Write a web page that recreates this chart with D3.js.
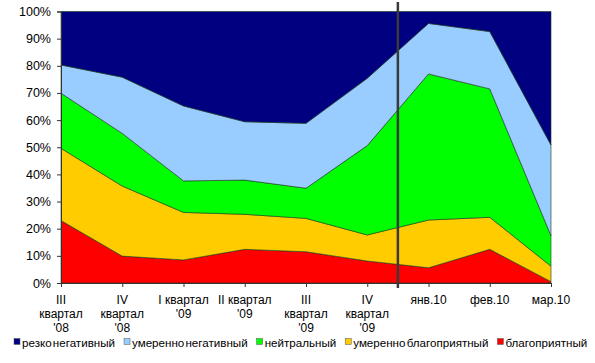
<!DOCTYPE html>
<html>
<head>
<meta charset="utf-8">
<script src="https://cdn.jsdelivr.net/npm/d3@7"></script>
<style>
  body { margin: 0; background: #fff; }
  svg { display: block; }
</style>
</head>
<body>
<svg id="chart"></svg>
<script>
const width = 595;
const height = 363;

// data
const categories = ["III квартал '08", "IV квартал '08", "I квартал '09", "II квартал '09",
    "III квартал '09", "IV квартал '09", "янв.10", "фев.10", "мар.10"];
const labelLines = [["III", "квартал", "'08"], ["IV", "квартал", "'08"], ["I квартал", "'09"],
    ["II квартал", "'09"], ["III", "квартал", "'09"], ["IV", "квартал", "'09"],
    ["янв.10"], ["фев.10"], ["мар.10"]];
const seriesNames = ["благоприятный", "умеренно благоприятный", "нейтральный",
    "умеренно негативный", "резко негативный"];
const blagopr = [23, 9.9, 8.5, 12.4, 11.5, 8.1, 5.6, 12.4, 0.5];
const umBlagopr = [26.6, 25.8, 17.5, 12.9, 12.3, 9.6, 17.6, 11.8, 5.7];
const neitral = [20.3, 19.4, 11.6, 12.6, 11.1, 32.9, 53.8, 47.3, 11.2];
const umNegativ = [10.4, 20.7, 27.6, 21.5, 23.9, 24.8, 18.6, 21.1, 33.4];
const rezkoNegativ = [19.7, 24.2, 34.8, 40.6, 41.2, 24.6, 4.4, 7.4, 49.2];
const yTicks = [0, 0.1, 0.2, 0.3, 0.4, 0.5, 0.6, 0.7, 0.8, 0.9, 1];

const colors = ["#ff0000", "#ffcc00", "#00ff00", "#99ccff", "#000080"];
const legendOrder = [4, 3, 2, 1, 0];

const seriesValues = [blagopr, umBlagopr, neitral, umNegativ, rezkoNegativ];
const table = categories.map((c, i) => {
    const row = {cat: c};
    seriesNames.forEach((s, j) => row[s] = seriesValues[j][i]);
    return row;
});

const margin = {top: 11.5, right: 44, bottom: 80, left: 61};
const svg = d3.select("#chart")
    .attr("width", width)
    .attr("height", height)
    .style("font", "12px 'Liberation Sans', Arial, sans-serif");

const x = d3.scalePoint()
    .domain(categories)
    .range([margin.left, width - margin.right]);
const y = d3.scaleLinear()
    .domain([0, 1])
    .range([height - margin.bottom, margin.top]);

const stacked = d3.stack()
    .keys(seriesNames)
    .offset(d3.stackOffsetExpand)(table);

const area = d3.area()
    .x(d => x(d.data.cat))
    .y0(d => y(d[0]))
    .y1(d => y(d[1]));

svg.append("g")
    .selectAll("path")
    .data(stacked)
    .join("path")
    .attr("d", area)
    .attr("fill", (d, i) => colors[i])
    .attr("stroke", "#1a3a1a")
    .attr("stroke-width", 0.6)
    .attr("stroke-linejoin", "round");

// y axis
const yAxis = svg.append("g")
    .attr("transform", `translate(${margin.left},0)`)
    .call(d3.axisLeft(y).tickValues(yTicks).tickFormat(d3.format(".0%")).tickSizeOuter(0).tickSize(4).tickPadding(6));
yAxis.select(".domain").attr("stroke", "#333");
yAxis.selectAll(".tick line").attr("stroke", "#333");
yAxis.selectAll("text").attr("fill", "#000").style("font-size", "12.5px");

// x axis
const xAxis = svg.append("g")
    .attr("transform", `translate(0,${y(0)})`)
    .call(d3.axisBottom(x).tickSizeOuter(0).tickSize(4).tickFormat(""));
xAxis.select(".domain").attr("stroke", "#333");
xAxis.selectAll(".tick line").attr("stroke", "#333");

svg.append("g")
    .selectAll("text")
    .data(categories)
    .join("text")
    .attr("text-anchor", "middle")
    .attr("y", y(0) + 21)
    .selectAll("tspan")
    .data((d, i) => labelLines[i].map(t => ({t, cx: x(d)})))
    .join("tspan")
    .attr("x", d => d.cx)
    .attr("dy", (d, i) => i === 0 ? 0 : 13.8)
    .text(d => d.t);

// vertical divider between IV квартал '09 and янв.10
const divX = (x(categories[5]) + x(categories[6])) / 2;
svg.append("line")
    .attr("x1", divX).attr("x2", divX)
    .attr("y1", 2).attr("y2", y(0) + 5)
    .attr("stroke", "#3a3a3a")
    .attr("stroke-width", 2.5);

// legend, squeezed to fit between x=14 and x=590 like the original
const legend = svg.append("g")
    .attr("transform", "translate(14,346.5)")
    .style("word-spacing", "-2px");
const items = legendOrder.map(i => {
    const g = legend.append("g");
    g.append("rect")
        .attr("x", 0).attr("y", -8)
        .attr("width", 6).attr("height", 6)
        .attr("fill", colors[i])
        .attr("stroke", "#555")
        .attr("stroke-width", 0.5);
    const t = g.append("text")
        .attr("x", 8)
        .text(seriesNames[i]);
    return {g, t};
});
function layoutLegend(fs) {
    let lx = 0;
    items.forEach(({g, t}) => {
        t.style("font-size", fs + "px");
        g.attr("transform", `translate(${lx},0)`);
        lx += 8 + t.node().getComputedTextLength() + 9;
    });
    return lx - 9;
}
let fs = 12;
while (layoutLegend(fs) > 576 && fs > 9) fs -= 0.1;
</script>
</body>
</html>
